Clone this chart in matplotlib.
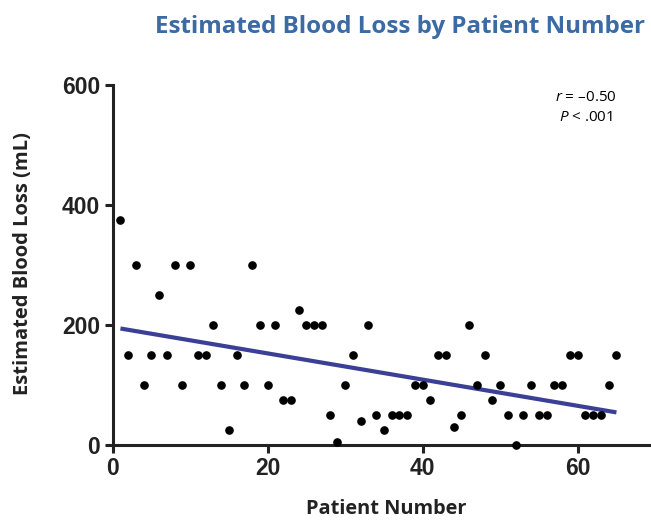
import numpy as np
import matplotlib.pyplot as plt

plt.rcParams['mathtext.fontset'] = 'custom'
plt.rcParams['mathtext.rm'] = 'Open Sans'
plt.rcParams['mathtext.it'] = 'Open Sans:italic'

# estimated blood loss (mL) for patients 1..65
patient = np.arange(1, 66)
blood_loss = [375, 150, 300, 100, 150, 250, 150, 300, 100, 300,
              150, 150, 200, 100, 25, 150, 100, 300, 200, 100,
              200, 75, 75, 225, 200, 200, 200, 50, 5, 100,
              150, 40, 200, 50, 25, 50, 50, 50, 100, 100,
              75, 150, 150, 30, 50, 200, 100, 150, 75, 100,
              50, 0, 50, 100, 50, 50, 100, 100, 150, 150,
              50, 50, 50, 100, 150]
x_ticks = [0, 20, 40, 60]
y_ticks = [0, 200, 400, 600]

blood_loss = np.array(blood_loss)
slope, intercept = np.polyfit(patient, blood_loss, 1)
fit_x = np.array([patient.min(), patient.max()])
fit_y = slope * fit_x + intercept

fig = plt.figure(figsize=(6.51, 5.21), dpi=100)
ax = fig.add_axes([0.1731, 0.1459, 0.8274, 0.691])

ax.scatter(patient, blood_loss, s=27, color='black', zorder=3, clip_on=False)
ax.plot(fit_x, fit_y, color='#3b3f96', lw=3, solid_capstyle='butt', zorder=2)

ax.set_xlim(0, 69.5)
ax.set_ylim(0, 600)
ax.set_xticks(x_ticks)
ax.set_yticks(y_ticks)
for s in ['top', 'right']:
    ax.spines[s].set_visible(False)
for s in ['left', 'bottom']:
    ax.spines[s].set_linewidth(2.2)
    ax.spines[s].set_color('#222222')
ax.tick_params(width=2.2, length=6, color='#222222', pad=3)
for lab in ax.get_xticklabels() + ax.get_yticklabels():
    lab.set_fontfamily('Liberation Sans')
    lab.set_fontweight('bold')
    lab.set_fontsize(16.5)
    lab.set_color('#222222')

ax.text(0.878, 0.965, '$\\it{r}$ = \u20130.50', transform=ax.transAxes,
        ha='center', va='center', fontsize=11, family='Open Sans')
ax.text(0.878, 0.911, '$\\it{P}$ < .001', transform=ax.transAxes,
        ha='center', va='center', fontsize=11, family='Open Sans')

fig.text(0.991, 0.948, 'Estimated Blood Loss by Patient Number', ha='right',
         va='center', fontsize=17.4, fontweight='bold', color='#3b6aa4',
         family='Open Sans')
fig.text(0.594, 0.004, 'Patient Number', ha='center', va='bottom',
         fontsize=14.4, fontweight='bold', family='Open Sans', color='#222222')
fig.text(0.036, 0.4946, 'Estimated Blood Loss (mL)', ha='center', va='center',
         rotation=90, fontsize=14.5, fontweight='bold', family='Open Sans',
         color='#222222')

fig.savefig('out.png', dpi=100)
